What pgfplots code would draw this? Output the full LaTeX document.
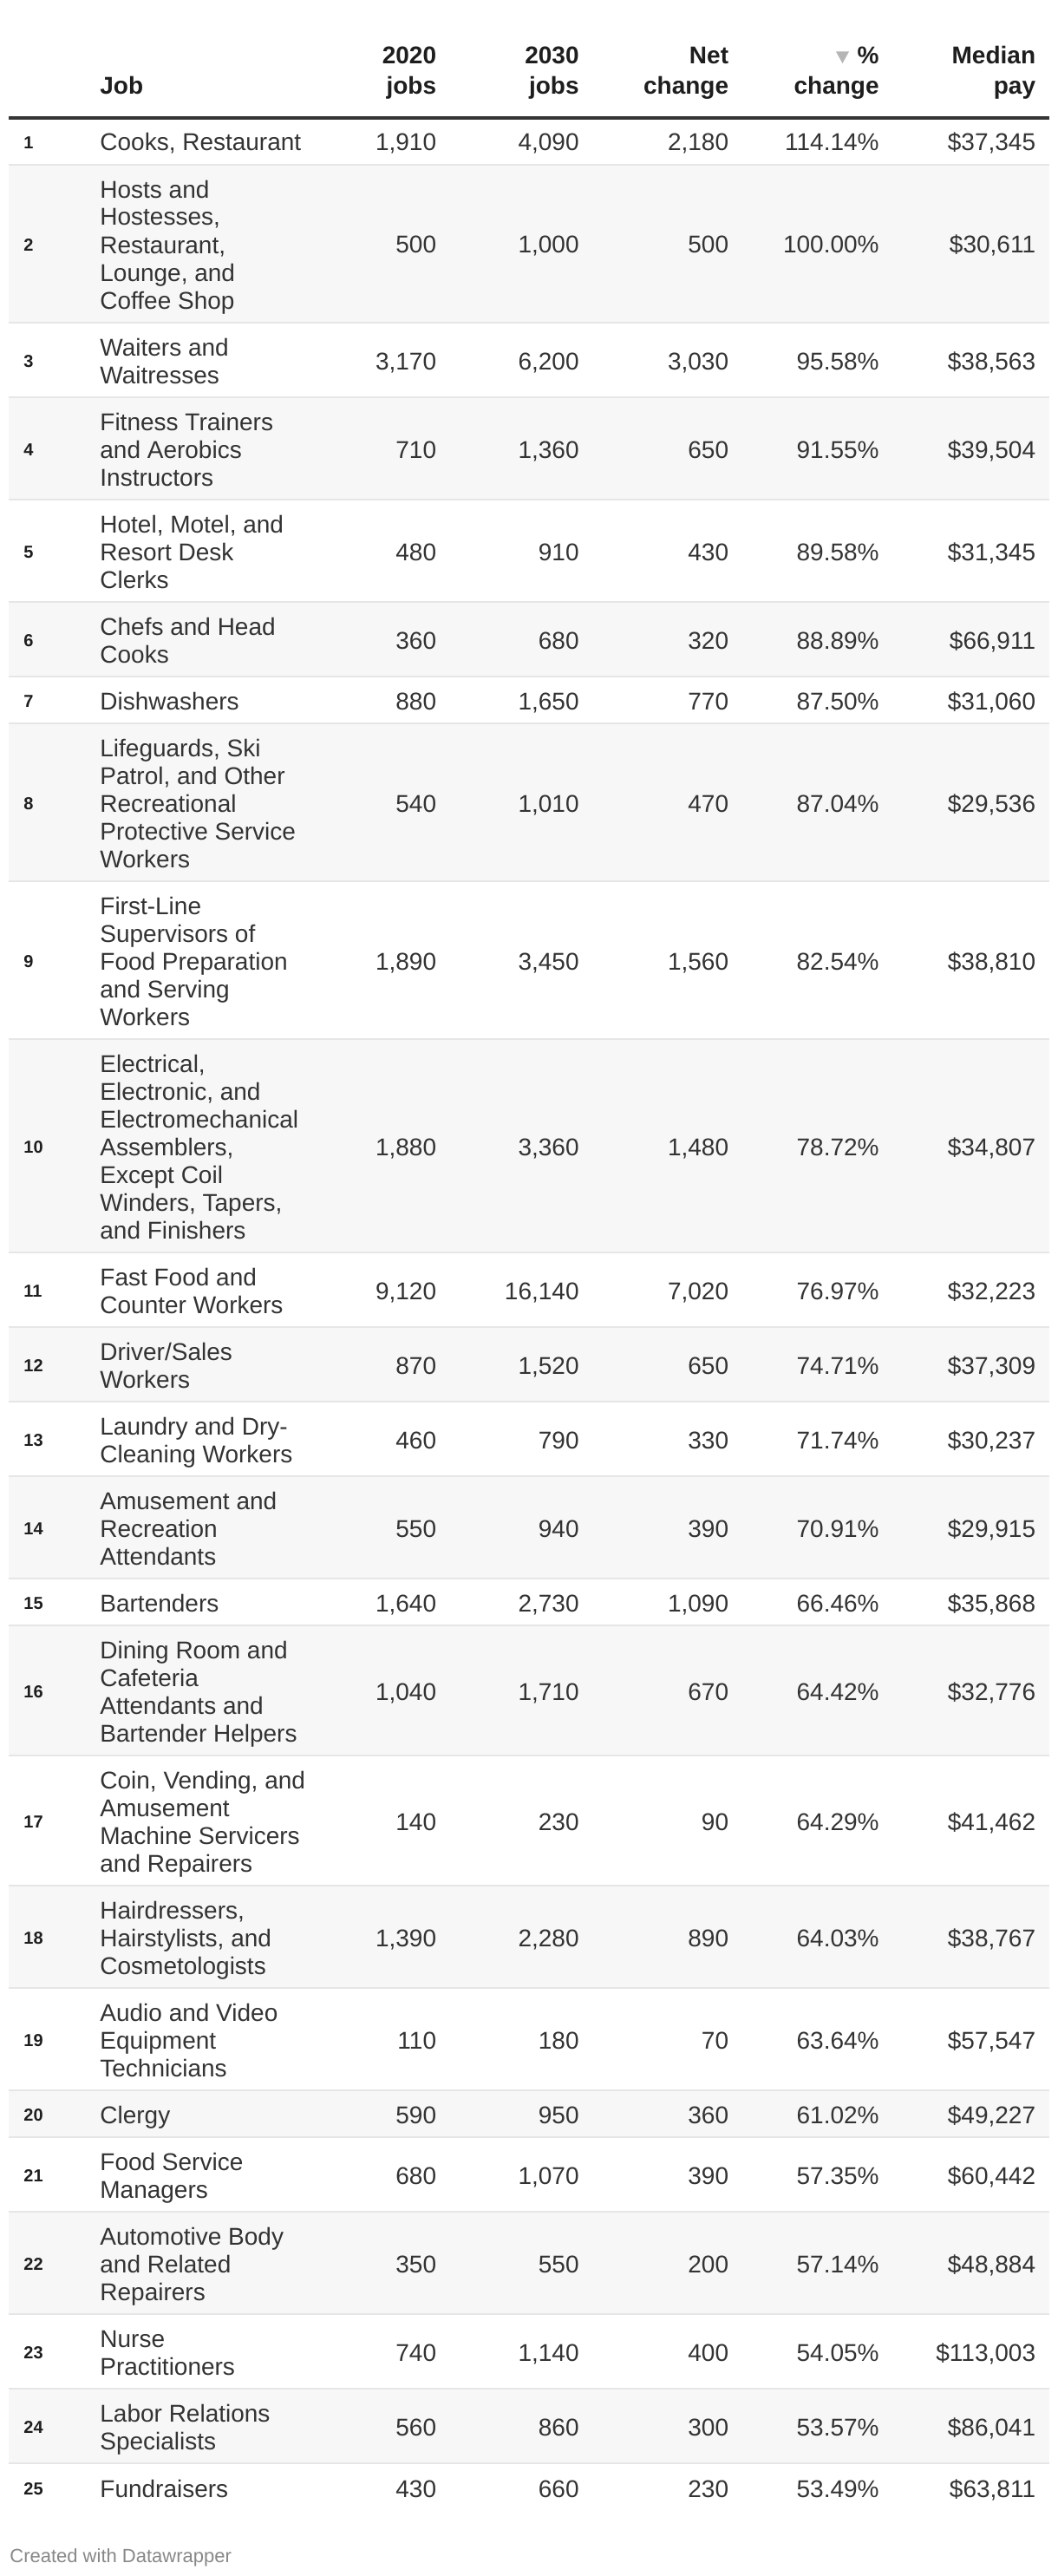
\documentclass[border=0pt]{standalone}
\usepackage{pgfplots}
\pgfplotsset{compat=1.18}
\usepackage{pgfplotstable}
\usepackage{fontspec}
\setmainfont{Liberation Sans}

\definecolor{txt}{HTML}{333333}
\definecolor{head}{HTML}{1E1E1E}
\definecolor{stripe}{HTML}{F7F7F7}
\definecolor{sepline}{HTML}{E6E6E6}
\definecolor{foot}{HTML}{888888}
\definecolor{arrowgray}{HTML}{B5B5B5}

% ymid = vertical centre of each row, in pixels from the top
\pgfplotstableread[col sep=comma]{
rank,ymid,a,b,net,pct,pay
1,163,1910,4090,2180,114.14,37345
2,281,500,1000,500,100.00,30611
3,415,3170,6200,3030,95.58,38563
4,517,710,1360,650,91.55,39504
5,635,480,910,430,89.58,31345
6,737,360,680,320,88.89,66911
7,807,880,1650,770,87.50,31060
8,925,540,1010,470,87.04,29536
9,1107,1890,3450,1560,82.54,38810
10,1321,1880,3360,1480,78.72,34807
11,1487,9120,16140,7020,76.97,32223
12,1573,870,1520,650,74.71,37309
13,1659,460,790,330,71.74,30237
14,1761,550,940,390,70.91,29915
15,1847,1640,2730,1090,66.46,35868
16,1949,1040,1710,670,64.42,32776
17,2099,140,230,90,64.29,41462
18,2233,1390,2280,890,64.03,38767
19,2351,110,180,70,63.64,57547
20,2437,590,950,360,61.02,49227
21,2507,680,1070,390,57.35,60442
22,2609,350,550,200,57.14,48884
23,2711,740,1140,400,54.05,113003
24,2797,560,860,300,53.57,86041
25,2868,430,660,230,53.49,63811
}\jobdata

\newcommand\bodyfont{\fontsize{14}{16}\selectfont}
% job name: y = row middle + 4 (struts fix first-line height and last-line depth)
\newcommand\jname[2]{\node[anchor=west, align=left, inner sep=0pt, text=txt, font=\bodyfont]
  at (axis cs:115,#1) {\rule{0pt}{10.5pt}#2\rule[-3.5pt]{0pt}{3.5pt}};}
\newcommand\hcell[3]{\node[anchor=base east, inner sep=0pt, text=head, font=\bodyfont\bfseries]
  at (axis cs:#1,74) {#2};
  \node[anchor=base east, inner sep=0pt, text=head, font=\bodyfont\bfseries]
  at (axis cs:#1,108.5) {#3};}

\begin{document}
\begin{tikzpicture}
\begin{axis}[
  width=610pt, height=1485pt, scale only axis,
  xmin=0, xmax=1220, ymin=0, ymax=2970, y dir=reverse,
  hide axis, clip=false,
  /pgf/number format/assume math mode=true,
  every node near coord/.append style={inner sep=0pt, text=txt, font=\bodyfont, anchor=base east},
]
\fill[white] (axis cs:0,0) rectangle (axis cs:1220,2970);

% striped rows
\fill[stripe] (axis cs:10,190) rectangle (axis cs:1210,372);
\fill[stripe] (axis cs:10,458) rectangle (axis cs:1210,576);
\fill[stripe] (axis cs:10,694) rectangle (axis cs:1210,780);
\fill[stripe] (axis cs:10,834) rectangle (axis cs:1210,1016);
\fill[stripe] (axis cs:10,1198) rectangle (axis cs:1210,1444);
\fill[stripe] (axis cs:10,1530) rectangle (axis cs:1210,1616);
\fill[stripe] (axis cs:10,1702) rectangle (axis cs:1210,1820);
\fill[stripe] (axis cs:10,1874) rectangle (axis cs:1210,2024);
\fill[stripe] (axis cs:10,2174) rectangle (axis cs:1210,2292);
\fill[stripe] (axis cs:10,2410) rectangle (axis cs:1210,2464);
\fill[stripe] (axis cs:10,2550) rectangle (axis cs:1210,2668);
\fill[stripe] (axis cs:10,2754) rectangle (axis cs:1210,2840);

\pgfplotsinvokeforeach{190,372,458,576,694,780,834,1016,1198,1444,1530,1616,1702,1820,1874,2024,2174,2292,2410,2464,2550,2668,2754,2840}{
  \draw[sepline, line width=1.2pt] (axis cs:10,#1) -- (axis cs:1210,#1);
}
\draw[head!90, line width=1.65pt] (axis cs:10,136) -- (axis cs:1210,136);

% header
\node[anchor=base west, inner sep=0pt, text=head, font=\bodyfont\bfseries] at (axis cs:115,108.5) {Job};
\hcell{503.5}{2020}{jobs}
\hcell{668}{2030}{jobs}
\hcell{840.5}{Net}{change}
\hcell{1014}{\%}{change}
\hcell{1194.5}{Median}{pay}
\fill[arrowgray] (axis cs:964,59.5) -- (axis cs:979,59.5) -- (axis cs:971.5,73) -- cycle;

% rank numbers
\addplot[draw=none, point meta=\thisrow{rank},
  nodes near coords={\pgfmathprintnumber[fixed,precision=0]{\pgfplotspointmeta}},
  nodes near coords style={anchor=base west, text=head, font=\fontsize{10}{12}\selectfont\bfseries}]
  table[x expr=27, y expr=\thisrow{ymid}+8.5] {\jobdata};

% number columns
\addplot[draw=none, point meta=\thisrow{a},
  nodes near coords={\pgfmathprintnumber[fixed,precision=0]{\pgfplotspointmeta}}]
  table[x expr=503.5, y expr=\thisrow{ymid}+11] {\jobdata};
\addplot[draw=none, point meta=\thisrow{b},
  nodes near coords={\pgfmathprintnumber[fixed,precision=0]{\pgfplotspointmeta}}]
  table[x expr=668, y expr=\thisrow{ymid}+11] {\jobdata};
\addplot[draw=none, point meta=\thisrow{net},
  nodes near coords={\pgfmathprintnumber[fixed,precision=0]{\pgfplotspointmeta}}]
  table[x expr=840.5, y expr=\thisrow{ymid}+11] {\jobdata};
\addplot[draw=none, point meta=\thisrow{pct},
  nodes near coords={\pgfmathprintnumber[fixed,zerofill,precision=2]{\pgfplotspointmeta}\%}]
  table[x expr=1014, y expr=\thisrow{ymid}+11] {\jobdata};
\addplot[draw=none, point meta=\thisrow{pay},
  nodes near coords={\$\pgfmathprintnumber[fixed,precision=0]{\pgfplotspointmeta}}]
  table[x expr=1194.5, y expr=\thisrow{ymid}+11] {\jobdata};

% job names
\jname{167}{Cooks, Restaurant}
\jname{285}{Hosts and\\Hostesses,\\Restaurant,\\Lounge, and\\Coffee Shop}
\jname{419}{Waiters and\\Waitresses}
\jname{521}{Fitness Trainers\\and Aerobics\\Instructors}
\jname{639}{Hotel, Motel, and\\Resort Desk\\Clerks}
\jname{741}{Chefs and Head\\Cooks}
\jname{811}{Dishwashers}
\jname{929}{Lifeguards, Ski\\Patrol, and Other\\Recreational\\Protective Service\\Workers}
\jname{1111}{First-Line\\Supervisors of\\Food Preparation\\and Serving\\Workers}
\jname{1325}{Electrical,\\Electronic, and\\Electromechanical\\Assemblers,\\Except Coil\\Winders, Tapers,\\and Finishers}
\jname{1491}{Fast Food and\\Counter Workers}
\jname{1577}{Driver/Sales\\Workers}
\jname{1663}{Laundry and Dry-\\Cleaning Workers}
\jname{1765}{Amusement and\\Recreation\\Attendants}
\jname{1851}{Bartenders}
\jname{1953}{Dining Room and\\Cafeteria\\Attendants and\\Bartender Helpers}
\jname{2103}{Coin, Vending, and\\Amusement\\Machine Servicers\\and Repairers}
\jname{2237}{Hairdressers,\\Hairstylists, and\\Cosmetologists}
\jname{2355}{Audio and Video\\Equipment\\Technicians}
\jname{2441}{Clergy}
\jname{2511}{Food Service\\Managers}
\jname{2613}{Automotive Body\\and Related\\Repairers}
\jname{2715}{Nurse\\Practitioners}
\jname{2801}{Labor Relations\\Specialists}
\jname{2872}{Fundraisers}

\node[anchor=base west, inner sep=0pt, text=foot, font=\fontsize{11}{13}\selectfont] at (axis cs:11,2954) {Created with Datawrapper};
\end{axis}
\end{tikzpicture}
\end{document}
